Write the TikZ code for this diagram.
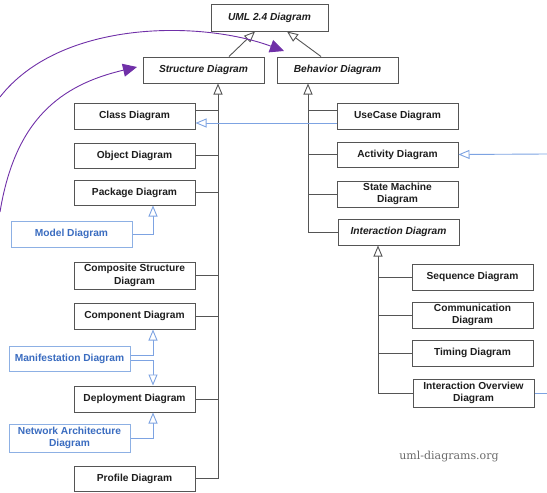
\documentclass[tikz,border=0pt]{standalone}
\usepackage{fontspec}
\setmainfont{Liberation Sans}
\newfontfamily\wmfont{DejaVu Serif}
\usetikzlibrary{arrows.meta}
\definecolor{edgegray}{HTML}{555555}
\definecolor{txtblack}{HTML}{1E1E1E}
\definecolor{bluetxt}{HTML}{3A6CC0}
\definecolor{blueedge}{HTML}{8DB0E4}
\definecolor{blueline}{HTML}{7DA3E2}
\definecolor{purp}{HTML}{7030A8}
\definecolor{wmgray}{HTML}{6A6A6A}
\tikzset{
  dbox/.style={draw=edgegray, line width=1pt, fill=white, inner sep=0pt, minimum width=121pt, minimum height=26pt, align=center, text=txtblack, font=\fontsize{10.2}{12.7}\selectfont\bfseries},
  abox/.style={dbox, font=\fontsize{10.2}{12.7}\selectfont\bfseries\itshape},
  bbox/.style={dbox, draw=blueedge, text=bluetxt},
  conn/.style={draw=edgegray, line width=0.9pt},
  gen/.style={conn, -{Triangle[open, length=11pt, width=9pt, fill=white]}},
  bgen/.style={draw=blueline, line width=0.9pt, -{Triangle[open, length=11pt, width=9pt, fill=white]}},
  bline/.style={draw=blueline, line width=0.9pt},
  parrow/.style={draw=purp, line width=0.9pt, -{Triangle[length=14pt, width=13pt]}},
}
\begin{document}
\begin{tikzpicture}[x=1pt, y=-1pt]
\useasboundingbox (0,0) rectangle (547,493);
% coordinates for trunks
\coordinate (sx) at (218,0);
\coordinate (bx) at (308,0);
\coordinate (ix) at (378,0);
\coordinate (ax) at (153,0);
\coordinate (ua) at (255,0);
\coordinate (ub) at (287,0);
\coordinate (sa) at (229,0);
\coordinate (ba) at (321,0);
\coordinate (rightA) at (547,154);
\coordinate (rightB) at (547,393);
\coordinate (p1s) at (0,97);
\coordinate (p1e) at (284,51);
\coordinate (p2s) at (0,212);
\coordinate (p2e) at (137,67);
% top
\node[abox, minimum width=117pt, minimum height=27pt] (uml) at (269.5,17.5) {UML 2.4 Diagram};
\node[abox] (struct) at (203.5,70) {Structure Diagram};
\node[abox] (behav) at (337.5,70) {Behavior Diagram};
% structure children
\node[dbox] (class) at (134.5,116) {Class Diagram};
\node[dbox, minimum height=25pt] (object) at (134.5,155.5) {Object Diagram};
\node[dbox, minimum height=25pt] (package) at (134.5,192.5) {Package Diagram};
\node[bbox] (model) at (71.5,234) {Model Diagram};
\node[dbox, minimum height=27pt] (composite) at (134.5,275.5) {Composite Structure\\Diagram};
\node[dbox] (component) at (134.5,316) {Component Diagram};
\node[bbox, minimum height=25pt] (manifest) at (69.5,358.5) {Manifestation Diagram};
\node[dbox] (deploy) at (134.5,399) {Deployment Diagram};
\node[bbox, minimum height=28pt] (network) at (69.5,438) {Network Architecture\\Diagram};
\node[dbox, minimum height=25pt] (profile) at (134.5,478.5) {Profile Diagram};
% behavior children
\node[dbox] (usecase) at (397.5,116) {UseCase Diagram};
\node[dbox, minimum height=25pt] (activity) at (397.5,154.5) {Activity Diagram};
\node[dbox] (state) at (397.5,194) {State Machine\\Diagram};
\node[abox] (interaction) at (398.5,232) {Interaction Diagram};
\node[dbox] (sequence) at (472.5,277) {Sequence Diagram};
\node[dbox] (communication) at (472.5,315) {Communication\\Diagram};
\node[dbox] (timing) at (472.5,353) {Timing Diagram};
\node[dbox, minimum height=28pt] (overview) at (473.5,393) {Interaction Overview\\Diagram};
% watermark
\node[text=wmgray, font=\wmfont\fontsize{11}{13}\selectfont] (wm) at (449,457) {uml-diagrams.org};
% generalizations to UML
\draw[gen] (struct.north -| sa) -- (uml.south -| ua);
\draw[gen] (behav.north -| ba) -- (uml.south -| ub);
% structure trunk
\draw[gen] (profile.east) -| (struct.south -| sx);
\draw[conn] ([yshift=6pt]class.east) -- ([yshift=6pt]class.east -| sx);
\foreach \n in {object,package,composite,component,deploy}
  \draw[conn] (\n.east) -- (\n.east -| sx);
% behavior trunk
\draw[gen] (interaction.west) -| (behav.south -| bx);
\draw[conn] ([yshift=6pt]usecase.west) -- ([yshift=6pt]usecase.west -| bx);
\foreach \n in {activity,state}
  \draw[conn] (\n.west) -- (\n.west -| bx);
% interaction trunk
\draw[gen] (overview.west) -| (interaction.south -| ix);
\foreach \n in {sequence,communication,timing}
  \draw[conn] (\n.west) -- (\n.west -| ix);
% blue specializations
\draw[bgen] (model.east) -| (package.south -| ax);
\draw[bgen] ([yshift=3.5pt]manifest.east) -| (component.south -| ax);
\draw[bgen] ([yshift=-1.5pt]manifest.east) -| (deploy.north -| ax);
\draw[bgen] (network.east) -| (deploy.south -| ax);
\draw[bgen] ([yshift=-7pt]usecase.west) -- ([yshift=-7pt]class.east);
\draw[bgen] (rightA) -- (activity.east);
\draw[bline] (overview.east) -- (rightB);
% purple curves
\draw[parrow] (p1s) .. controls (60,20) and (200,20) .. (p1e);
\draw[parrow] (p2s) .. controls (15,120) and (60,85) .. (p2e);
\end{tikzpicture}
\end{document}
